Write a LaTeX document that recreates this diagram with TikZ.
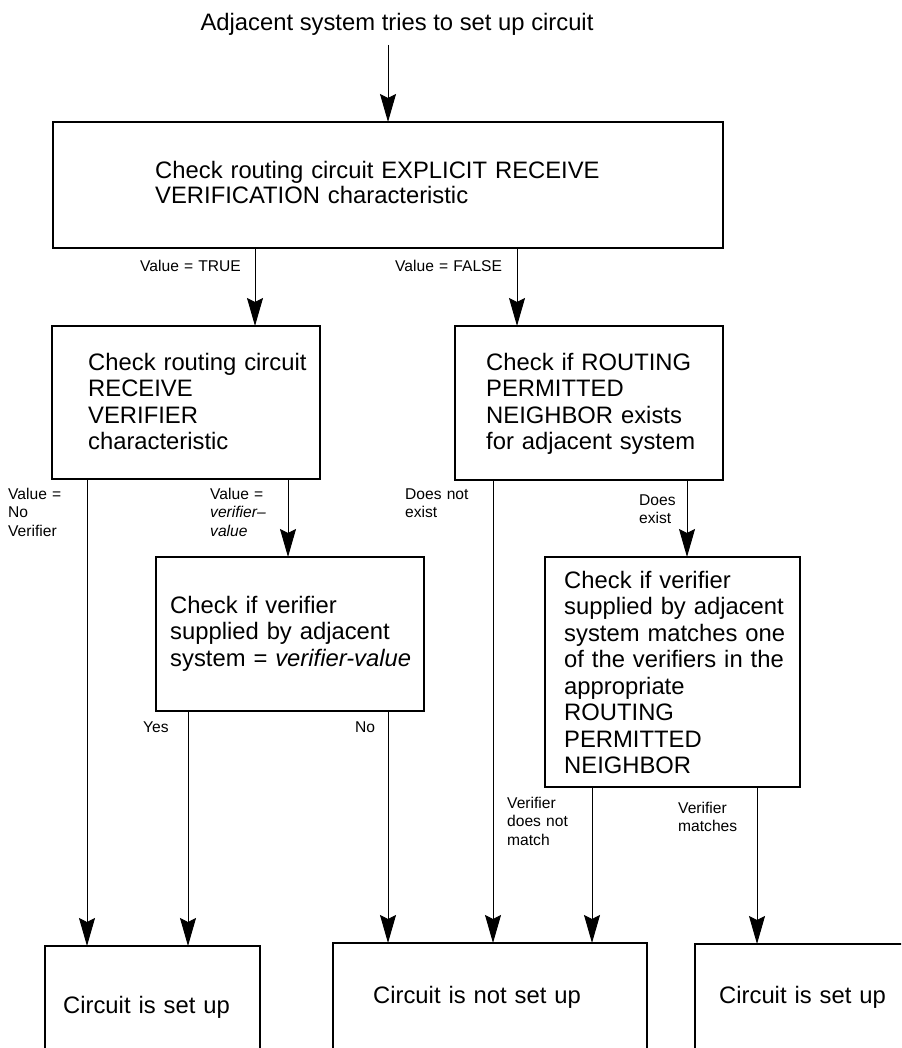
\documentclass[tikz,border=0pt]{standalone}
\usepackage{fontspec}
\setmainfont{Liberation Sans}
\usetikzlibrary{arrows.meta}
\begin{document}
\begin{tikzpicture}[x=1pt,y=-1pt,
  box/.style={draw, line width=2pt, rectangle, inner sep=0pt, outer sep=0pt, anchor=north west},
  body/.style={anchor=base west, inner sep=0pt, align=left, text width=700pt,
    font=\fontsize{23.8}{26.5}\selectfont},
  lbl/.style={anchor=base west, inner sep=0pt, align=left, text width=120pt,
    font=\fontsize{15.6}{18.5}\selectfont},
  flow/.style={line width=1pt, -{Stealth[length=28pt,width=16pt,inset=4pt]}}]
\useasboundingbox (0,0) rectangle (901,1048);
\clip (0,0) rectangle (901,1048);

% start text
\node[anchor=base, inner sep=0pt, font=\fontsize{23.8}{26.5}\selectfont] (start) at (397,31)
  {Adjacent system tries to set up circuit};
\coordinate (in) at (388,45);

% decision boxes
\node[box, minimum width=670pt, minimum height=126pt] (b0) at (53,122) {};
\node[box, minimum width=268pt, minimum height=153pt] (b2) at (52,326) {};
\node[box, minimum width=268pt, minimum height=154pt] (b3) at (455,326) {};
\node[box, minimum width=268pt, minimum height=154pt] (b4) at (156,557) {};
\node[box, minimum width=255pt, minimum height=230pt] (b5) at (545,557) {};

% outcome boxes (run off the lower edge)
\node[box, minimum width=215pt, minimum height=200pt] (r1) at (45,946) {};
\node[box, minimum width=314pt, minimum height=200pt] (r2) at (333,943) {};
\node[box, minimum width=260pt, minimum height=200pt] (r3) at (695,944) {};

% box texts
\node[body, font=\fontsize{23.8}{25}\selectfont] (t0) at (155,179)
  {Check routing circuit EXPLICIT RECEIVE\\VERIFICATION characteristic};
\node[body] (t2) at (88,370) {Check routing circuit\\RECEIVE\\VERIFIER\\characteristic};
\node[body] (t3) at (486,370) {Check if ROUTING\\PERMITTED\\NEIGHBOR exists\\for adjacent system};
\node[body] (t4) at (170,613) {Check if verifier\\supplied by adjacent\\system = \textit{verifier-value}};
\node[body] (t5) at (564,588) {Check if verifier\\supplied by adjacent\\system matches one\\of the verifiers in the\\appropriate\\ROUTING\\PERMITTED\\NEIGHBOR};
\node[body] (u1) at (63,1013) {Circuit is set up};
\node[body] (u2) at (373,1003) {Circuit is not set up};
\node[body] (u3) at (719,1003) {Circuit is set up};

% branch labels
\node[lbl] (l1) at (140,272) {Value = TRUE};
\node[lbl] (l2) at (395,272) {Value = FALSE};
\node[lbl] (l3) at (8,499) {Value =\\No\\Verifier};
\node[lbl] (l4) at (210,499) {Value =\\\textit{verifier--}\\\textit{value}};
\node[lbl] (l5) at (405,499) {Does not\\exist};
\node[lbl] (l6) at (639,505) {Does\\exist};
\node[lbl] (l7) at (143,732) {Yes};
\node[lbl] (l8) at (355,732) {No};
\node[lbl] (l9) at (507,808) {Verifier\\does not\\match};
\node[lbl] (l10) at (678,813) {Verifier\\matches};

% connector columns
\coordinate (c87) at (87,0);
\coordinate (c188) at (188,0);
\coordinate (c255) at (255,0);
\coordinate (c288) at (288,0);
\coordinate (c388) at (388,0);
\coordinate (c493) at (493,0);
\coordinate (c517) at (517,0);
\coordinate (c592) at (592,0);
\coordinate (c687) at (687,0);
\coordinate (c757) at (757,0);

% connectors
\draw[flow] (in) -- (b0.north -| in);
\draw[flow] (b0.south -| c255) -- (b2.north -| c255);
\draw[flow] (b0.south -| c517) -- (b3.north -| c517);
\draw[flow] (b2.south -| c87) -- (r1.north -| c87);
\draw[flow] (b2.south -| c288) -- (b4.north -| c288);
\draw[flow] (b4.south -| c188) -- (r1.north -| c188);
\draw[flow] (b4.south -| c388) -- (r2.north -| c388);
\draw[flow] (b3.south -| c493) -- (r2.north -| c493);
\draw[flow] (b3.south -| c687) -- (b5.north -| c687);
\draw[flow] (b5.south -| c592) -- (r2.north -| c592);
\draw[flow] (b5.south -| c757) -- (r3.north -| c757);
\end{tikzpicture}
\end{document}
